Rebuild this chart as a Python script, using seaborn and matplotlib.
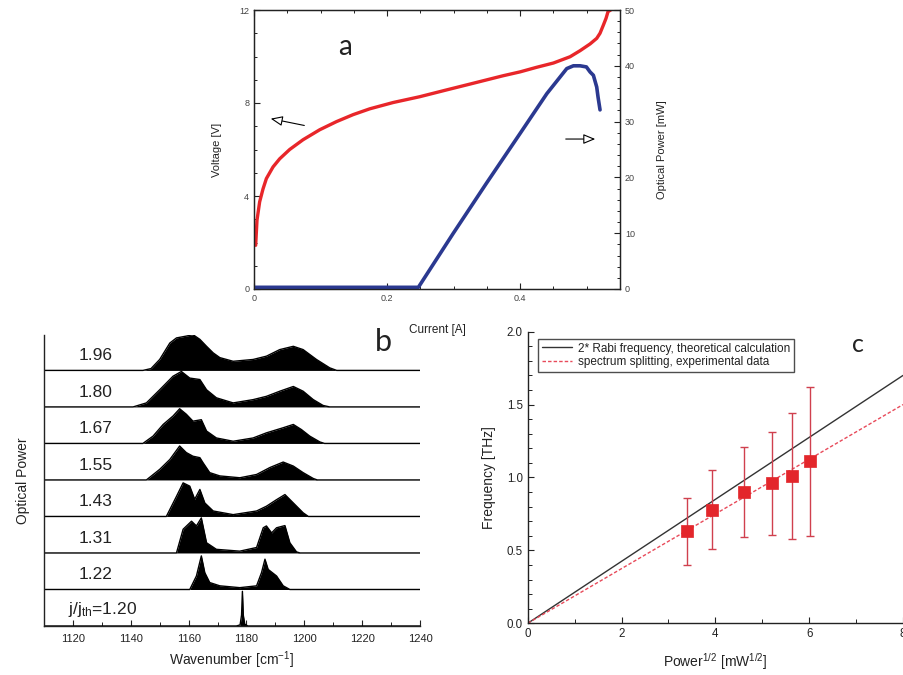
import numpy as np
import pandas as pd
import matplotlib
matplotlib.use("Agg")
import matplotlib.pyplot as plt
import seaborn as sns
from matplotlib.ticker import MultipleLocator

sns.set_theme(style="ticks")
plt.rcParams['font.family'] = ['Liberation Sans', 'DejaVu Sans']
plt.rcParams['mathtext.fontset'] = 'custom'
plt.rcParams['mathtext.rm'] = 'Liberation Sans'
plt.rcParams['mathtext.it'] = 'Liberation Sans:italic'
plt.rcParams['xtick.minor.size'] = 2.5
plt.rcParams['ytick.minor.size'] = 2.5
plt.rcParams['xtick.minor.width'] = 0.8
plt.rcParams['ytick.minor.width'] = 0.8

# ---------------- Panel a data ----------------
current_v = [0.0025, 0.0045, 0.0085, 0.0135, 0.0186, 0.0286, 0.0386, 0.0536, 0.0737,
             0.0988, 0.124, 0.149, 0.174, 0.209, 0.249, 0.289, 0.324, 0.374, 0.400,
             0.424, 0.450, 0.475, 0.490, 0.505, 0.515, 0.520, 0.525, 0.529, 0.532, 0.536]
voltage = [1.88, 2.96, 3.75, 4.30, 4.75, 5.25, 5.60, 6.00, 6.42,
           6.85, 7.20, 7.50, 7.75, 8.02, 8.27, 8.56, 8.81, 9.17, 9.34,
           9.53, 9.72, 9.99, 10.25, 10.54, 10.78, 11.00, 11.35, 11.64, 11.93, 12.0]
current_p = [0.0, 0.247, 0.299, 0.349, 0.400, 0.440, 0.470, 0.480, 0.490, 0.4995,
             0.505, 0.510, 0.515, 0.517, 0.520]
opt_power = [0.3, 0.3, 9.9, 18.9, 27.9, 35.0, 39.5, 40.0, 40.0, 39.8,
             38.9, 38.3, 36.2, 34.4, 32.1]

# ---------------- Panel b data ----------------
ratio_labels = ["j/j$_{\\mathrm{th}}$=1.20", "1.22", "1.31", "1.43", "1.55", "1.67", "1.80", "1.96"]
wn_120 = [1176.5, 1177.8, 1178.3, 1178.6, 1178.9, 1179.4, 1180.5]
h_120 = [0.0, 0.03, 0.30, 0.95, 0.30, 0.05, 0.0]
wn_122 = [1160.4, 1162.7, 1164.4, 1165.6, 1167.3, 1170.8, 1177.7, 1183.5, 1185.2, 1186.4,
          1187.5, 1190.4, 1192.7, 1195.0]
h_122 = [0.0, 0.37, 0.92, 0.46, 0.19, 0.10, 0.05, 0.10, 0.46, 0.83, 0.55, 0.37, 0.10, 0.0]
wn_131 = [1155.8, 1158.1, 1161.0, 1162.7, 1164.4, 1166.2, 1169.6, 1177.7, 1183.5, 1185.8,
          1186.9, 1188.7, 1190.4, 1193.3, 1195.0, 1197.3, 1198.5]
h_131 = [0.0, 0.65, 0.87, 0.74, 0.96, 0.28, 0.10, 0.05, 0.15, 0.69, 0.74, 0.55, 0.69,
         0.75, 0.28, 0.03, 0.0]
wn_143 = [1152.3, 1155.8, 1158.1, 1160.4, 1162.1, 1163.9, 1165.6, 1168.5, 1175.4, 1183.5,
          1186.9, 1190.4, 1193.3, 1196.2, 1199.6, 1201.4]
h_143 = [0.0, 0.55, 0.92, 0.83, 0.47, 0.74, 0.37, 0.15, 0.05, 0.15, 0.28, 0.46, 0.60,
         0.37, 0.10, 0.0]
wn_155 = [1145.4, 1150.0, 1153.5, 1156.9, 1159.2, 1161.5, 1163.9, 1165.0, 1167.3, 1170.8,
          1177.7, 1183.5, 1188.1, 1192.7, 1196.2, 1199.6, 1203.1, 1204.5]
h_155 = [0.0, 0.29, 0.56, 0.93, 0.75, 0.65, 0.61, 0.47, 0.20, 0.11, 0.06, 0.15, 0.34,
         0.49, 0.38, 0.20, 0.04, 0.0]
wn_167 = [1144.2, 1147.7, 1151.2, 1154.6, 1156.9, 1159.2, 1161.5, 1164.4, 1166.2, 1169.6,
          1175.4, 1182.3, 1186.9, 1192.7, 1196.2, 1199.0, 1201.9, 1205.4, 1207.0]
h_167 = [0.0, 0.20, 0.52, 0.75, 0.95, 0.80, 0.61, 0.65, 0.34, 0.15, 0.06, 0.15, 0.29,
         0.43, 0.52, 0.38, 0.20, 0.04, 0.0]
wn_180 = [1140.8, 1145.4, 1150.0, 1154.6, 1157.5, 1160.4, 1163.9, 1166.2, 1169.6, 1175.4,
          1182.3, 1186.9, 1191.5, 1196.2, 1199.6, 1203.1, 1206.5, 1208.8]
h_180 = [0.0, 0.11, 0.47, 0.84, 0.97, 0.79, 0.75, 0.47, 0.25, 0.11, 0.20, 0.29, 0.43,
         0.56, 0.43, 0.20, 0.04, 0.0]
wn_196 = [1144.2, 1147.0, 1150.0, 1153.5, 1155.8, 1159.2, 1161.5, 1163.9, 1166.2, 1168.5,
          1170.8, 1175.4, 1182.3, 1186.9, 1191.5, 1196.2, 1199.6, 1204.2, 1208.8, 1211.2]
h_196 = [0.0, 0.05, 0.30, 0.75, 0.89, 0.94, 0.98, 0.85, 0.66, 0.48, 0.35, 0.25, 0.30,
         0.39, 0.57, 0.66, 0.57, 0.30, 0.07, 0.0]
spectra_wn = [wn_120, wn_122, wn_131, wn_143, wn_155, wn_167, wn_180, wn_196]
spectra_h = [h_120, h_122, h_131, h_143, h_155, h_167, h_180, h_196]

# ---------------- Panel c data ----------------
sqrt_power = [3.39, 3.93, 4.61, 5.20, 5.64, 6.01]
freq = [0.63, 0.78, 0.90, 0.96, 1.01, 1.11]
freq_err = [0.23, 0.27, 0.31, 0.355, 0.435, 0.51]
fit_x = [0.0, 8.0]
theory_y = [0.0, 1.70]
exp_fit_y = [0.0, 1.50]

RED = "#e8262a"
BLUE = "#2b3990"
TXT = "#222222"

fig = plt.figure(figsize=(9.04, 6.75), dpi=100)


def style_ticks(ax, labelsize, labelcolor, major_len=4, minor_len=2.5, **kw):
    ax.tick_params(which="both", direction="in", labelsize=labelsize,
                   labelcolor=labelcolor, color="#222222", **kw)
    ax.tick_params(which="major", length=major_len, width=0.8)
    ax.tick_params(which="minor", length=minor_len, width=0.7)


# ================= Panel a =================
axa = fig.add_axes([254/904, 1-289/675, 366/904, 279/675])
axa2 = axa.twinx()
dfv = pd.DataFrame({"I": current_v, "V": voltage})
dfp = pd.DataFrame({"I": current_p, "P": opt_power})
sns.lineplot(data=dfv, x="I", y="V", ax=axa, color=RED, lw=2.4, sort=False)
sns.lineplot(data=dfp, x="I", y="P", ax=axa2, color=BLUE, lw=2.6, sort=False)
axa.set_xlim(0, 0.55)
axa.set_ylim(0, 12)
axa2.set_ylim(0, 50)
axa.set_xticks([0, 0.2, 0.4])
axa.set_xticklabels(["0", "0.2", "0.4"])
axa.xaxis.set_minor_locator(MultipleLocator(0.05))
axa.set_yticks([0, 4, 8, 12])
axa.yaxis.set_minor_locator(MultipleLocator(1))
axa2.set_yticks([0, 10, 20, 30, 40, 50])
axa2.yaxis.set_minor_locator(MultipleLocator(2))
style_ticks(axa, 6.5, "#444444", major_len=4, minor_len=2.2, top=True, bottom=True, left=True)
style_ticks(axa2, 6.5, "#444444", major_len=4, minor_len=2.2, right=True)
for ax in (axa, axa2):
    for s in ax.spines.values():
        s.set_linewidth(0.9)
        s.set_color("#222222")
        s.set_visible(True)
axa.set_xlabel("Current [A]", fontsize=8.5, labelpad=15, color=TXT)
axa.set_ylabel("Voltage [V]", fontsize=8, labelpad=12, color=TXT)
axa2.set_ylabel("Optical Power [mW]", fontsize=8, labelpad=16, color=TXT)
axa.text(0.1367, 10.41, "a", fontsize=20, family="Lato", ha="center", va="center", color=TXT)
axa.annotate("", xy=(0.021, 7.35), xytext=(0.0797, 7.01),
             arrowprops=dict(arrowstyle="-|>,head_length=0.6,head_width=0.25", fc="white",
                             ec="black", lw=0.8))
axa.annotate("", xy=(0.517, 6.45), xytext=(0.4643, 6.45),
             arrowprops=dict(arrowstyle="-|>,head_length=0.6,head_width=0.25", fc="white",
                             ec="black", lw=0.8))

# ================= Panel b =================
axb = fig.add_axes([44/904, 1-626/675, 376/904, 291/675])
XMIN_B, XMAX_B = 1110, 1240
for i, (wn, h) in enumerate(zip(spectra_wn, spectra_h)):
    xs = [XMIN_B] + list(wn) + [XMAX_B]
    ys = [i] + [i + v for v in h] + [i]
    dfs = pd.DataFrame({"wn": xs, "y": ys})
    axb.fill_between(xs, i, ys, color="black", lw=0)
    sns.lineplot(data=dfs, x="wn", y="y", ax=axb, color="black", lw=1.0, sort=False)
    axb.text(1118.2 if i == 0 else 1121.8, i + (0.45 if i == 0 else 0.4), ratio_labels[i],
             fontsize=12.5, ha="left", va="center", color=TXT)
axb.set_xlim(XMIN_B, XMAX_B)
axb.set_ylim(0, 7.97)
axb.set_yticks([])
axb.set_xticks(range(1120, 1241, 20))
axb.xaxis.set_minor_locator(MultipleLocator(10))
style_ticks(axb, 8, TXT, major_len=4.5, minor_len=3, pad=6)
for side in ("top", "right"):
    axb.spines[side].set_visible(False)
for side in ("left", "bottom"):
    axb.spines[side].set_linewidth(1.0)
    axb.spines[side].set_color("#222222")
axb.set_xlabel("Wavenumber [cm$^{-1}$]", fontsize=10, labelpad=4, color=TXT)
axb.set_ylabel("Optical Power", fontsize=10, labelpad=10, color=TXT)
axb.text(1227.2, 7.78, "b", fontsize=22, family="Lato", ha="center", va="center", color=TXT)

# ================= Panel c =================
axc = fig.add_axes([527.7/904, 1-623.3/675, 375.3/904, 291.6/675])
dft = pd.DataFrame({"x": fit_x, "y": theory_y})
dfe = pd.DataFrame({"x": fit_x, "y": exp_fit_y})
sns.lineplot(data=dft, x="x", y="y", ax=axc, color="#333333", lw=1.0,
             label="2* Rabi frequency, theoretical calculation")
sns.lineplot(data=dfe, x="x", y="y", ax=axc, color="#e84a5a", lw=1.0,
             label="spectrum splitting, experimental data")
axc.lines[-1].set_linestyle((0, (2.5, 1.5)))
axc.errorbar(sqrt_power, freq, yerr=freq_err, fmt="none", ecolor="#d0404e",
             elinewidth=1.0, capsize=3, capthick=1.0)
sns.scatterplot(x=sqrt_power, y=freq, ax=axc, marker="s", s=85, color="#e3262b",
                edgecolor="#e3262b", linewidth=0.5, zorder=5)
axc.set_xlim(0, 8)
axc.set_ylim(0, 2.0)
axc.set_xticks([0, 2, 4, 6, 8])
axc.xaxis.set_minor_locator(MultipleLocator(1))
axc.set_yticks([0.0, 0.5, 1.0, 1.5, 2.0])
axc.set_yticklabels(["0.0", "0.5", "1.0", "1.5", "2.0"])
axc.yaxis.set_minor_locator(MultipleLocator(0.1))
style_ticks(axc, 8.3, TXT, major_len=4.5, minor_len=3)
for side in ("top", "right"):
    axc.spines[side].set_visible(False)
for side in ("left", "bottom"):
    axc.spines[side].set_linewidth(1.0)
    axc.spines[side].set_color("#222222")
axc.set_xlabel("Power$^{1/2}$ [mW$^{1/2}$]", fontsize=10, labelpad=8, color=TXT)
axc.set_ylabel("Frequency [THz]", fontsize=10, labelpad=8, color=TXT)
leg = axc.legend(loc="upper left", bbox_to_anchor=(0.028, 0.975), fontsize=8.5,
                 frameon=True, fancybox=False, handlelength=2.6, borderpad=0.3,
                 labelspacing=0.15, handletextpad=0.5, borderaxespad=0)
leg.get_frame().set_edgecolor("#222222")
leg.get_frame().set_linewidth(1.0)
for t in leg.get_texts():
    t.set_color(TXT)
axc.text(7.04, 1.909, "c", fontsize=18, family="Lato", ha="center", va="center", color=TXT)

fig.savefig("out.png", dpi=100)
